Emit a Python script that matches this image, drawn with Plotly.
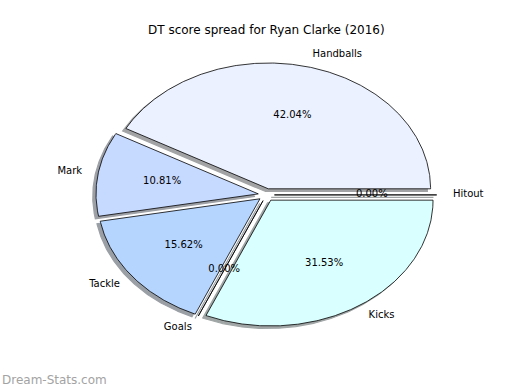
import numpy as np
import plotly.graph_objects as go

# ---- data ----
labels = ["Handballs", "Mark", "Tackle", "Goals", "Kicks", "Hitout"]
values = [42.04, 10.81, 15.62, 0.00, 31.53, 0.00]
colors = ["#ebf1ff", "#c6d9ff", "#b5d5ff", "#b5e5ff", "#d9ffff", "#e0ffff"]
title_text = "DT score spread for Ryan Clarke (2016)"
watermark = "Dream-Stats.com"

explode = 0.05
shadow_off = (-0.02, -0.02)
label_dist = 1.1
pct_dist = 0.6
FONT = "DejaVu Sans"


def hex_to_rgb(h):
    h = h.lstrip("#")
    return tuple(int(h[i:i + 2], 16) for i in (0, 2, 4))


vals = np.array(values, dtype=float)
fracs = vals / vals.sum()
ends = np.cumsum(fracs) * 360.0
starts = np.concatenate([[0.0], ends[:-1]])

fig = go.Figure()

wedges = []
for lab, t1, t2, col, v in zip(labels, starts, ends, colors, values):
    mid = np.deg2rad((t1 + t2) / 2)
    cx, cy = explode * np.cos(mid), explode * np.sin(mid)
    n = max(2, int(abs(t2 - t1)) * 2 + 2)
    t = np.deg2rad(np.linspace(t1, t2, n))
    xs = np.concatenate([[cx], cx + np.cos(t), [cx]])
    ys = np.concatenate([[cy], cy + np.sin(t), [cy]])
    wedges.append((lab, mid, cx, cy, xs, ys, col, v))

# shadows first (opaque blend of 0.3*colour at 50% over white)
for lab, mid, cx, cy, xs, ys, col, v in wedges:
    r, g, b = hex_to_rgb(col)
    sc = "rgb({},{},{})".format(*[int(0.5 * c * 0.3 + 0.5 * 255) for c in (r, g, b)])
    fig.add_trace(go.Scatter(
        x=xs + shadow_off[0], y=ys + shadow_off[1], mode="lines",
        fill="toself", fillcolor=sc, line=dict(color=sc, width=1.2),
        hoverinfo="skip", showlegend=False))

# wedges
for lab, mid, cx, cy, xs, ys, col, v in wedges:
    fig.add_trace(go.Scatter(
        x=xs, y=ys, mode="lines", fill="toself", fillcolor=col,
        line=dict(color="black", width=0.8),
        hoverinfo="skip", showlegend=False))

# labels and percentages
for lab, mid, cx, cy, xs, ys, col, v in wedges:
    lx = cx + label_dist * np.cos(mid)
    ly = cy + label_dist * np.sin(mid)
    fig.add_trace(go.Scatter(
        x=[lx], y=[ly], mode="text", text=[lab],
        textposition="middle right" if lx > 0 else "middle left",
        textfont=dict(family=FONT, size=10, color="black"),
        hoverinfo="skip", showlegend=False))
    px_ = cx + pct_dist * np.cos(mid)
    py_ = cy + pct_dist * np.sin(mid)
    fig.add_trace(go.Scatter(
        x=[px_], y=[py_], mode="text", text=[f"{v:.2f}%"],
        textposition="middle center",
        textfont=dict(family=FONT, size=10, color="black"),
        hoverinfo="skip", showlegend=False))

fig.add_annotation(text=title_text, xref="paper", yref="paper",
                   x=266.3 / 520, y=1 - 30 / 390, xanchor="center", yanchor="middle",
                   showarrow=False, font=dict(family=FONT, size=12, color="black"))
fig.add_annotation(text=watermark, xref="paper", yref="paper",
                   x=0, y=1 - 380 / 390, xanchor="left", yanchor="middle",
                   showarrow=False, font=dict(family=FONT, size=12, color="#a3a3a3"))

fig.update_layout(
    width=520, height=390, autosize=False,
    margin=dict(l=0, r=0, t=0, b=0, pad=0),
    paper_bgcolor="white", plot_bgcolor="white",
    xaxis=dict(range=[-1.6408, 1.5632], visible=False, fixedrange=True),
    yaxis=dict(range=[-1.5509, 1.5493], visible=False, fixedrange=True),
    showlegend=False,
)

fig.write_html("out.html")
